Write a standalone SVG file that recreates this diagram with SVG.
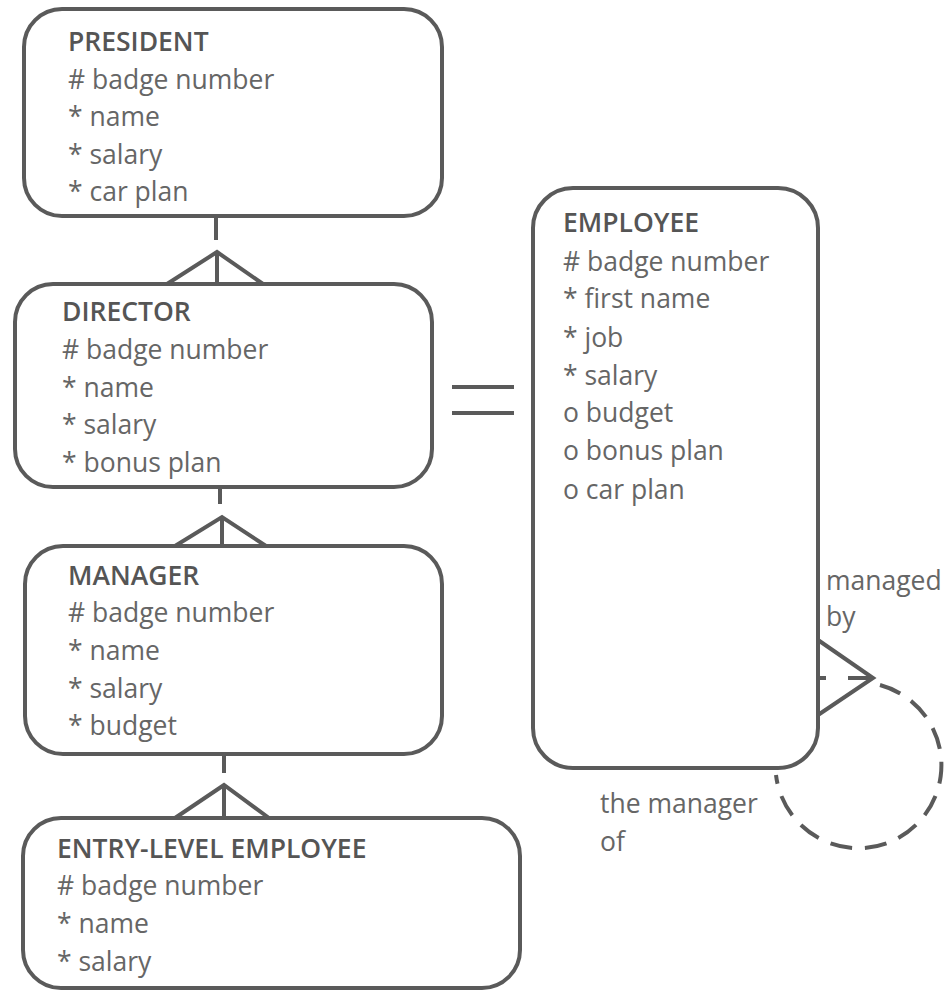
<svg xmlns="http://www.w3.org/2000/svg" width="949" height="991" viewBox="0 0 949 991">
  <style>
    .box { fill: #ffffff; stroke: #5a5a5a; stroke-width: 4; }
    .ln { stroke: #5a5a5a; stroke-width: 4; fill: none; stroke-linecap: butt; }
    .dash { stroke: #5a5a5a; stroke-width: 4; fill: none; stroke-dasharray: 22 13; }
    text { font-family: "Open Sans", "Liberation Sans", sans-serif; font-size: 26.5px; fill: #666666; }
    .title { font-weight: 600; fill: #555555; }
  </style>
  <rect width="949" height="991" fill="#ffffff"/>

  <g id="connectors">
    <!-- president / director -->
    <line class="ln" x1="216" y1="218" x2="216" y2="240"/>
    <polyline class="ln" points="167,284 217,252 263,284"/>
    <line class="ln" x1="217" y1="252" x2="217" y2="284"/>
    <!-- director / manager -->
    <line class="ln" x1="220" y1="487" x2="220" y2="504"/>
    <polyline class="ln" points="175,546 222,517 266,546"/>
    <line class="ln" x1="222" y1="517" x2="222" y2="546"/>
    <!-- manager / entry-level -->
    <line class="ln" x1="224" y1="754" x2="224" y2="773"/>
    <polyline class="ln" points="175,818 224,785 269,818"/>
    <line class="ln" x1="224" y1="785" x2="224" y2="818"/>
    <!-- equality -->
    <line class="ln" x1="452" y1="387" x2="514" y2="387"/>
    <line class="ln" x1="452" y1="413" x2="514" y2="413"/>
    <!-- recursive relationship on employee -->
    <polyline class="ln" points="818,640 873,678 818,715"/>
    <line class="ln" x1="818" y1="678" x2="826" y2="678"/>
    <line class="ln" x1="848" y1="678" x2="873" y2="678"/>
    <path class="dash" d="M 880 685 A 83 83 0 1 1 776 775"/>
  </g>

  <g id="president">
    <rect class="box" x="24" y="9" width="418" height="207" rx="38"/>
    <text class="title" x="68" y="51">PRESIDENT</text>
    <text x="68" y="89"># badge number</text>
    <text x="68" y="126">* name</text>
    <text x="68" y="164">* salary</text>
    <text x="68" y="201">* car plan</text>
  </g>

  <g id="director">
    <rect class="box" x="15" y="284" width="417" height="203" rx="38"/>
    <text class="title" x="62" y="321">DIRECTOR</text>
    <text x="62" y="359"># badge number</text>
    <text x="62" y="397">* name</text>
    <text x="62" y="434">* salary</text>
    <text x="62" y="472">* bonus plan</text>
  </g>

  <g id="manager">
    <rect class="box" x="25" y="546" width="417" height="208" rx="38"/>
    <text class="title" x="68" y="585">MANAGER</text>
    <text x="68" y="622"># badge number</text>
    <text x="68" y="660">* name</text>
    <text x="68" y="698">* salary</text>
    <text x="68" y="735">* budget</text>
  </g>

  <g id="entry-level-employee">
    <rect class="box" x="23" y="818" width="497" height="170" rx="38"/>
    <text class="title" x="57" y="858">ENTRY-LEVEL EMPLOYEE</text>
    <text x="57" y="895"># badge number</text>
    <text x="57" y="933">* name</text>
    <text x="57" y="971">* salary</text>
  </g>

  <g id="employee">
    <rect class="box" x="533" y="188" width="285" height="580" rx="40"/>
    <text class="title" x="563" y="232">EMPLOYEE</text>
    <text x="563" y="271"># badge number</text>
    <text x="563" y="308">* first name</text>
    <text x="563" y="347">* job</text>
    <text x="563" y="385">* salary</text>
    <text x="563" y="422">o budget</text>
    <text x="563" y="460">o bonus plan</text>
    <text x="563" y="499">o car plan</text>
  </g>

  <g id="labels">
    <text x="826" y="590">managed</text>
    <text x="826" y="626">by</text>
    <text x="600" y="813">the manager</text>
    <text x="600" y="851">of</text>
  </g>
</svg>
